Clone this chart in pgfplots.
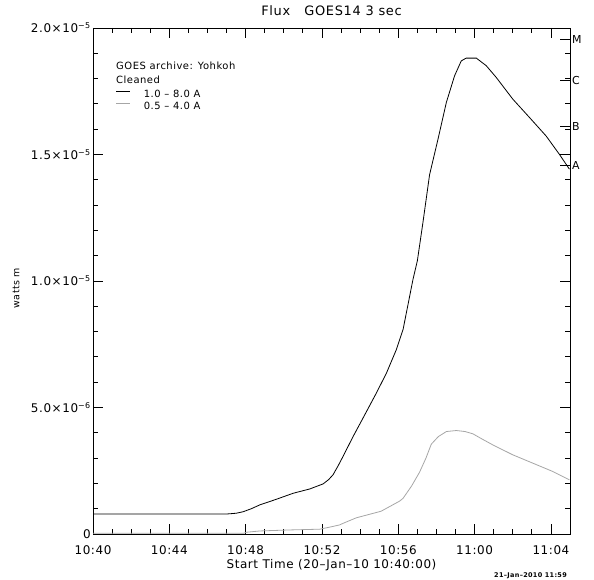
\documentclass[border=0pt]{standalone}
\usepackage{fontspec}
\setmainfont{DejaVu Sans}[LetterSpace=5]
\usepackage{pgfplots}
\pgfplotsset{compat=1.18}
\definecolor{graycurve}{HTML}{A6A6A6}
\begin{document}
\begin{tikzpicture}
\path[use as bounding box] (0,0) rectangle (594bp,580bp);
\begin{axis}[
  at={(93bp,46bp)}, anchor=south west,
  width=477bp, height=506bp, scale only axis,
  xmin=0, xmax=25, ymin=0, ymax=20,
  xtick={0,4,8,12,16,20,24},
  xticklabels={10:40,10:44,10:48,10:52,10:56,11:00,11:04},
  minor x tick num=3,
  ytick={0,5,10,15,20},
  yticklabels={0,5.0×10\textsuperscript{−6},1.0×10\textsuperscript{−5},1.5×10\textsuperscript{−5},2.0×10\textsuperscript{−5}},
  minor y tick num=4,
  tick align=inside,
  major tick length=10bp, minor tick length=5bp,
  tick style={black, line width=0.8bp},
  axis line style={line width=0.9bp},
  /pgf/number format/assume math mode=true,
  ticklabel style={font=\fontsize{12}{14}\selectfont},
  xticklabel style={yshift=-8bp},
  yticklabel style={inner sep=2bp},
  title={Flux\hspace{1.1em}GOES14 3 sec},
  title style={at={(0.5,1)}, anchor=base, yshift=6.3bp, font=\fontsize{13}{15}\selectfont},
  xlabel={Start Time (20–Jan–10 10:40:00)},
  xlabel style={at={(axis description cs:0.5,0)}, anchor=base, yshift=-34bp, font=\fontsize{12}{14}\selectfont},
  ylabel={watts m},
  ylabel style={at={(axis description cs:-0.1614,0.486)}, anchor=center, font=\fontsize{9.5}{11}\selectfont},
  legend style={draw=none, fill=none, at={(0.048,0.878)}, anchor=north west, inner sep=0pt, row sep=2bp,
    nodes={inner sep=0pt, text height=8bp, text depth=2bp}, font=\fontsize{10}{12}\selectfont},
  legend cell align=left,
  legend image code/.code={\draw[#1] (0bp,3.5bp) -- (14bp,3.5bp); \path (27bp,0bp);},
]
\addplot[black, line width=0.8bp] coordinates {
(0,0.79) (7.0,0.79) (7.5,0.82) (7.87,0.88) (8.3,1.0) (8.74,1.15) (9.6,1.37) (10.49,1.61)
(11.36,1.78) (12.06,1.98) (12.35,2.15) (12.58,2.34) (12.85,2.7) (13.1,3.06) (13.63,3.85)
(14.15,4.58) (14.85,5.57) (15.38,6.36) (15.9,7.29) (16.25,8.08) (16.77,10.06) (17.0,10.8)
(17.29,12.3) (17.64,14.2) (18.08,15.6) (18.52,17.06) (18.95,18.11) (19.3,18.7) (19.56,18.81)
(20.09,18.81) (20.61,18.51) (21.13,18.05) (22.0,17.19) (22.88,16.46) (23.75,15.73) (24.45,15.0) (24.97,14.42)
};
\addlegendentry{1.0 – 8.0 A}
\addplot[graycurve, line width=0.8bp] coordinates {
(0,0.03) (7.9,0.03) (8.05,0.07) (8.74,0.12) (10.3,0.16) (11.88,0.19) (12.4,0.27) (12.93,0.36)
(13.1,0.42) (13.8,0.64) (15.1,0.9) (16.07,1.3) (16.25,1.41) (16.7,1.9) (17.12,2.45) (17.45,3.0)
(17.73,3.55) (18.1,3.85) (18.52,4.05) (19.04,4.09) (19.5,4.05) (19.91,3.96) (20.4,3.75)
(20.96,3.52) (22.0,3.13) (23.05,2.8) (24.1,2.47) (24.97,2.14)
};
\addlegendentry{0.5 – 4.0 A}
\end{axis}
\begin{axis}[
  at={(93bp,46bp)}, anchor=south west,
  width=477bp, height=506bp, scale only axis,
  xmin=0, xmax=25, ymin=0, ymax=20,
  axis y line*=right, axis x line=none,
  ytick={19.56,17.94,16.12,14.57},
  yticklabels={M,C,B,A},
  minor tick num=0,
  tick align=inside,
  major tick length=10bp,
  tick style={black, line width=0.8bp},
  axis line style={line width=0.9bp},
  yticklabel style={font=\fontsize{11}{13}\selectfont, inner sep=2bp},
]
\end{axis}
\node[anchor=base west, font=\fontsize{10}{12}\selectfont, inner sep=0pt] at (116bp,510bp) {GOES archive: Yohkoh};
\node[anchor=base west, font=\fontsize{10}{12}\selectfont, inner sep=0pt] at (116bp,496bp) {Cleaned};
\node[anchor=east, font=\fontsize{6.5}{8}\selectfont\bfseries, inner sep=0pt] at (567bp,4bp) {21–Jan–2010 11:59};
\end{tikzpicture}
\end{document}
